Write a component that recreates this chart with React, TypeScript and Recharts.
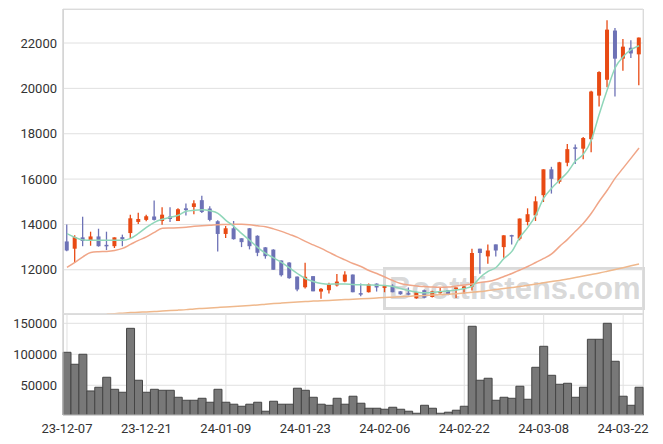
import { ComposedChart, Bar, Line, XAxis, YAxis, CartesianGrid, BarChart } from 'recharts';

// trading days, 23-12-07 .. 24-03-26
const dates = [
  '23-12-07', '23-12-08', '23-12-11', '23-12-12', '23-12-13', '23-12-14', '23-12-15', '23-12-18', '23-12-19', '23-12-20',
  '23-12-21', '23-12-22', '23-12-26', '23-12-27', '23-12-28', '24-01-02', '24-01-03', '24-01-04', '24-01-05', '24-01-08',
  '24-01-09', '24-01-10', '24-01-11', '24-01-12', '24-01-15', '24-01-16', '24-01-17', '24-01-18', '24-01-19', '24-01-22',
  '24-01-23', '24-01-24', '24-01-25', '24-01-26', '24-01-29', '24-01-30', '24-01-31', '24-02-01', '24-02-02', '24-02-05',
  '24-02-06', '24-02-07', '24-02-08', '24-02-13', '24-02-14', '24-02-15', '24-02-16', '24-02-19', '24-02-20', '24-02-21',
  '24-02-22', '24-02-23', '24-02-26', '24-02-27', '24-02-28', '24-02-29', '24-03-04', '24-03-05', '24-03-06', '24-03-07',
  '24-03-08', '24-03-11', '24-03-12', '24-03-13', '24-03-14', '24-03-15', '24-03-18', '24-03-19', '24-03-20', '24-03-21',
  '24-03-22', '24-03-25', '24-03-26',
];

const opens = [
  13250, 12930, 13430, 13270, 13470, 13100, 13040, 13440, 13620, 14110,
  14200, 14350, 14150, 14350, 14150, 14710, 14770, 15070, 14700, 14140,
  13580, 13830, 13390, 13830, 13500, 12990, 12890, 12410, 12320, 11700,
  11230, 11720, 11040, 11100, 11310, 11480, 11790, 10970, 11010, 11390,
  11200, 11300, 11050, 10970, 10740, 11100, 10800, 10990, 11100, 11160,
  11160, 11260, 12930, 12590, 13120, 13000, 13530, 13370, 14110, 14400,
  15290, 16430, 15880, 16720, 17400, 17340, 17760, 19680, 20380, 22550,
  21310, 21790, 21500,
];

const highs = [
  14000, 13520, 14340, 13680, 13810, 13680, 13430, 13550, 14430, 14520,
  14430, 15050, 14760, 14760, 14710, 14920, 15070, 15260, 14800, 14180,
  13930, 14150, 13390, 13840, 13520, 13000, 12910, 12410, 12330, 11700,
  12310, 11720, 11200, 11430, 11810, 11930, 11790, 11390, 11400, 11400,
  11320, 11360, 11060, 11220, 11010, 11130, 11080, 11200, 11110, 11220,
  11290, 12930, 12930, 13110, 13120, 13520, 13540, 14260, 14710, 15240,
  16430, 16540, 16760, 17550, 17530, 17860, 19900, 20750, 23000, 22660,
  22180, 22120, 22240,
];

const lows = [
  12820, 12310, 13040, 13060, 13020, 12870, 12960, 13040, 13370, 14020,
  14140, 14170, 13990, 14110, 14150, 14390, 14450, 14500, 14140, 12810,
  13400, 13330, 13000, 12900, 12600, 12490, 12000, 11700, 11600, 11050,
  11170, 11050, 10720, 10950, 11260, 11450, 11010, 10830, 11000, 11040,
  11010, 11010, 10900, 10880, 10720, 10740, 10780, 10950, 10880, 10760,
  10940, 11090, 11820, 12270, 12590, 12530, 13120, 13300, 13960, 14150,
  14990, 15360, 15800, 16570, 16660, 16870, 17180, 19200, 20050, 19640,
  20780, 21340, 20140,
];

const closes = [
  12850, 13440, 13270, 13470, 13040, 13040, 13430, 13350, 14270, 14240,
  14360, 14200, 14430, 14240, 14670, 14630, 14930, 14550, 14200, 13580,
  13830, 13350, 13220, 13040, 12750, 12600, 12000, 11760, 11630, 11130,
  11690, 11050, 11160, 11360, 11480, 11790, 11010, 10950, 11360, 11220,
  11300, 11010, 10920, 10950, 11010, 10770, 11050, 11030, 10890, 11220,
  11260, 12740, 12740, 12850, 12850, 13520, 13490, 14260, 14450, 15020,
  16430, 16010, 16740, 17320, 17340, 17810, 19860, 20720, 22590, 21310,
  21840, 21540, 22240,
];

const ma5 = [
  13593, 13429, 13319, 13297, 13297, 13297, 13297, 13297, 13385, 13606,
  13872, 14093, 14226, 14314, 14403, 14580, 14624, 14646, 14602, 14491,
  14182, 13916, 13593, 13297, 12987, 12721, 12522, 12323, 12080, 11836,
  11615, 11482, 11394, 11363, 11372, 11372, 11350, 11336, 11327, 11319,
  11305, 11261, 11172, 11084, 11018, 10982, 10995, 11040, 11062, 11106,
  11172, 11283, 11659, 11925, 12102, 12500, 12810, 13429, 13872, 14403,
  15155, 15598, 15952, 16305, 16792, 17102, 17722, 18872, 19934, 20907,
  21394, 21704, 21881,
];

const ma20 = [
  12102, 12323, 12566, 12766, 12797, 12810, 12854, 12943, 13120, 13297,
  13451, 13651, 13828, 13841, 13850, 13872, 13916, 13947, 13960, 13991,
  13996, 14005, 14005, 13982, 13938, 13894, 13805, 13695, 13562, 13429,
  13252, 13097, 12943, 12766, 12589, 12434, 12279, 12146, 11969, 11836,
  11681, 11527, 11394, 11327, 11283, 11261, 11239, 11230, 11239, 11283,
  11327, 11372, 11438, 11482, 11571, 11704, 11836, 11991, 12146, 12323,
  12500, 12699, 13031, 13341, 13695, 14049, 14491, 15022, 15509, 16040,
  16483, 16925, 17367,
];

const ma60 = [
  null, null, null, null, null, 10044, 10066, 10088, 10111, 10124,
  10142, 10155, 10177, 10199, 10221, 10243, 10274, 10296, 10318, 10341,
  10363, 10385, 10407, 10429, 10451, 10482, 10509, 10531, 10553, 10575,
  10597, 10619, 10633, 10650, 10668, 10686, 10703, 10721, 10739, 10757,
  10774, 10792, 10810, 10827, 10850, 10867, 10885, 10903, 10925, 10947,
  10973, 11004, 11040, 11084, 11128, 11173, 11217, 11261, 11314, 11372,
  11429, 11482, 11527, 11593, 11659, 11726, 11792, 11858, 11934, 12013,
  12093, 12177, 12257,
];

const volumes = [
  103200, 83900, 100000, 40800, 46800, 62900, 43500, 38700, 141900, 58100,
  38700, 43500, 41900, 41900, 30600, 25800, 25800, 29000, 22600, 43500,
  22600, 19400, 16100, 19400, 22600, 8100, 24200, 19400, 19400, 45200,
  41900, 30600, 19400, 17700, 29000, 19400, 32300, 21000, 12900, 12900,
  11300, 14500, 11300, 8100, 4800, 17700, 12900, 4800, 6500, 9700,
  16100, 145200, 58100, 61300, 25800, 30600, 29000, 48400, 27400, 79000,
  112900, 66100, 51600, 53200, 30600, 46800, 124200, 124200, 150000, 88700,
  32300, 17700, 46800,
];

const priceTicks = [12000, 14000, 16000, 18000, 20000, 22000];
const volumeTicks = [50000, 100000, 150000];

const UP = '#e84a14';
const DOWN = '#6d72b6';

const data = dates.map((date, i) => ({
  date,
  open: opens[i],
  high: highs[i],
  low: lows[i],
  close: closes[i],
  range: [lows[i], highs[i]],
  ma5: ma5[i],
  ma20: ma20[i],
  ma60: ma60[i],
  volume: volumes[i],
}));

// candle drawn inside the [low, high] bar the library positions
const Candle = (props: any) => {
  const { x, y, width, height, payload } = props;
  const { open, close, high, low } = payload;
  const color = close >= open ? UP : DOWN;
  const span = high - low || 1;
  const toY = (v: number) => y + ((high - v) / span) * height;
  const top = toY(Math.max(open, close));
  const bot = toY(Math.min(open, close));
  const cx = x + width / 2;
  return (
    <g>
      <line x1={cx} x2={cx} y1={y} y2={y + height} stroke={color} strokeWidth={1.3} />
      <rect x={x} y={top} width={width} height={Math.max(bot - top, 1.5)} fill={color} />
    </g>
  );
};

const tickStyle = { fill: '#333', fontSize: 13, fontFamily: 'Roboto, sans-serif' };
const frame = { position: 'absolute' as const, border: '1px solid #d6d6d6', boxSizing: 'border-box' as const };

export default function App() {
  return (
    <div style={{ position: 'relative', width: 655, height: 436, fontFamily: 'Roboto, sans-serif' }}>
      {/* plot frames */}
      <div style={{ ...frame, left: 55, top: 1, width: 581, height: 305 }} />
      <div style={{ ...frame, left: 55, top: 306, width: 581, height: 102 }} />

      {/* watermark */}
      <div
        style={{
          position: 'absolute', left: 375, top: 259, width: 262, height: 43,
          border: '3px solid rgba(205,205,205,0.75)', boxSizing: 'border-box',
          color: 'rgba(200,200,200,0.7)', fontFamily: '"Liberation Sans", Arial, sans-serif',
          fontWeight: 'bold', fontSize: 31, lineHeight: '37px', paddingLeft: 3, whiteSpace: 'nowrap',
        }}
      >
        Boottlistens.com
      </div>

      <div style={{ position: 'absolute', left: 0, top: 0 }}>
        <ComposedChart width={655} height={306} data={data} margin={{ top: 1, right: 20, bottom: 0, left: 0 }} barCategoryGap="22%">
          <CartesianGrid stroke="#e0e0e0" strokeWidth={1} />
          <XAxis dataKey="date" interval={9} tick={false} axisLine={false} tickLine={false} height={0} />
          <YAxis
            domain={[10050, 23500]}
            ticks={priceTicks}
            allowDataOverflow
            width={55}
            axisLine={{ stroke: '#cfcfcf' }}
            tickLine={false}
            tick={tickStyle}
            tickMargin={0}
            tickSize={6}
          />
          <Bar dataKey="range" shape={<Candle />} isAnimationActive={false} />
          <Line type="monotone" dataKey="ma60" stroke="#efb88c" strokeWidth={1.5} dot={false} isAnimationActive={false} />
          <Line type="monotone" dataKey="ma20" stroke="#f0a688" strokeWidth={1.5} dot={false} isAnimationActive={false} />
          <Line type="monotone" dataKey="ma5" stroke="#8fd6b9" strokeWidth={1.5} dot={false} isAnimationActive={false} />
        </ComposedChart>
      </div>

      <div style={{ position: 'absolute', left: 0, top: 305 }}>
        <BarChart width={655} height={124} data={data} margin={{ top: 1, right: 20, bottom: 0, left: 0 }} barCategoryGap={0}>
          <CartesianGrid stroke="#e0e0e0" strokeWidth={1} />
          <XAxis
            dataKey="date"
            interval={9}
            height={22}
            axisLine={{ stroke: '#cfcfcf' }}
            tickLine={false}
            tick={{ ...tickStyle, dy: 3 }}
            tickMargin={0}
          />
          <YAxis
            domain={[2000, 165000]}
            ticks={volumeTicks}
            allowDataOverflow
            width={55}
            axisLine={{ stroke: '#cfcfcf' }}
            tickLine={false}
            tick={tickStyle}
            tickMargin={0}
            tickSize={6}
          />
          <Bar dataKey="volume" fill="#787878" stroke="#454545" strokeWidth={1} isAnimationActive={false} />
        </BarChart>
      </div>
    </div>
  );
}
